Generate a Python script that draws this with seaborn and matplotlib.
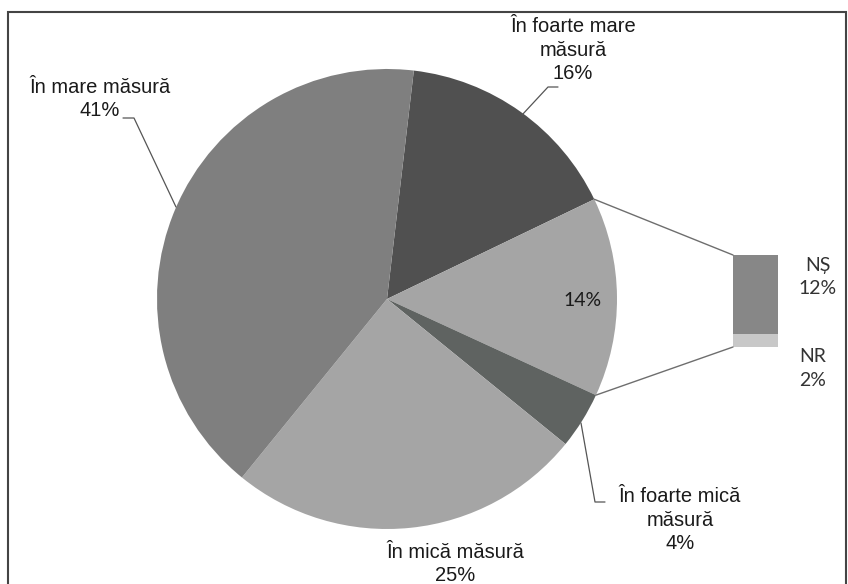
import matplotlib
matplotlib.use("Agg")
import matplotlib.pyplot as plt
import seaborn as sns
import numpy as np
from matplotlib.patches import Rectangle

sns.set_theme(style="white")
plt.rcParams['font.family'] = ['Liberation Sans', 'DejaVu Sans']

# ---- data ----
pie_labels = ["În foarte mare\nmăsură", "", "În foarte mică\nmăsură", "În mică măsură", "În mare măsură"]
bar_labels = ["NȘ", "NR"]
bar_values = [12, 2]
main_values = [16, 4, 25, 41]
pie_values = [main_values[0], sum(bar_values), main_values[1], main_values[2], main_values[3]]
pie_colors = ["#505050", "#a5a5a5", "#5f6361", "#a5a5a5", "#7f7f7f"]
bar_colors = ["#878787", "#c8c8c8"]

W, H = 848, 584
fig = plt.figure(figsize=(W / 100, H / 100), dpi=100)
ax = fig.add_axes([0, 0, 1, 1])

def Y(y):
    return H - y

cx, cy, R = 387, Y(299), 230
start = 83.3
wedges, _ = ax.pie(pie_values, startangle=start, counterclock=False, center=(cx, cy),
                   radius=R, colors=pie_colors, wedgeprops=dict(linewidth=0), frame=True)
ax.set_xlim(0, W)
ax.set_ylim(0, H)
ax.axis("off")
ax.set_aspect("equal")

# bar of pie
bx, bw = 755.5, 45
btop, bbot = Y(255), Y(347)
scale = (btop - bbot) / sum(bar_values)
bottom = bbot
for v, c in zip(bar_values[::-1], bar_colors[::-1]):
    ax.bar(bx, v * scale, width=bw, bottom=bottom, color=c, linewidth=0)
    bottom += v * scale

# connector lines
a1 = np.deg2rad(start - pie_values[0] * 3.6)
a2 = np.deg2rad(start - (pie_values[0] + pie_values[1]) * 3.6)
p1 = (cx + R * np.cos(a1), cy + R * np.sin(a1))
p2 = (cx + R * np.cos(a2), cy + R * np.sin(a2))
lc = "#6e6e6e"
ax.plot([p1[0], bx - bw / 2], [p1[1], btop], color=lc, lw=1)
ax.plot([p2[0], bx - bw / 2], [p2[1], bbot], color=lc, lw=1)

fs = 14.5
ls = 1.3
tc = "#1a1a1a"
ax.text(573, Y(50), f"{pie_labels[0]}\n{pie_values[0]}%", ha="center", va="center",
        fontsize=fs, color=tc, linespacing=ls)
ax.text(100, Y(99), f"{pie_labels[4]}\n{pie_values[4]}%", ha="center", va="center",
        fontsize=fs, color=tc, linespacing=ls)
ax.text(583, Y(300), f"{pie_values[1]}%", ha="center", va="center", fontsize=14,
        color=tc, family=['Lato', 'DejaVu Sans'])
ax.text(680, Y(520), f"{pie_labels[2]}\n{pie_values[2]}%", ha="center", va="center",
        fontsize=fs, color=tc, linespacing=ls)
ax.text(455, Y(564), f"{pie_labels[3]}\n{pie_values[3]}%", ha="center", va="center",
        fontsize=fs, color=tc, linespacing=ls)
ax.text(818, Y(277), f"{bar_labels[0]}\n{bar_values[0]}%", ha="center", va="center",
        fontsize=14, color="#333333", family=['Lato', 'DejaVu Sans'], linespacing=1.5)
ax.text(813, Y(369), f"{bar_labels[1]}\n{bar_values[1]}%", ha="center", va="center",
        fontsize=14, color="#333333", family=['Lato', 'DejaVu Sans'], linespacing=1.5)

# leader lines
ll = "#555555"
ax.plot([558, 548, 522], [Y(87), Y(87), Y(115)], color=ll, lw=0.9)
ax.plot([123, 134, 176], [Y(118), Y(118), Y(207)], color=ll, lw=0.9)
ax.plot([581, 595, 605], [Y(423), Y(502), Y(502)], color=ll, lw=0.9)

# frame
ax.add_patch(Rectangle((8, -5), 838, Y(12) + 5, fill=False, edgecolor="#444444", lw=1.5))

fig.savefig("out.png", dpi=100)
